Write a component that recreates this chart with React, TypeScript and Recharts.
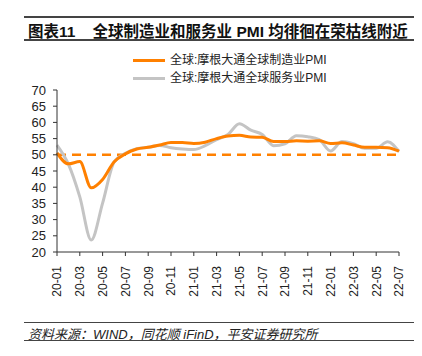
import React from 'react';
import { LineChart, Line, XAxis, YAxis, ReferenceLine } from 'recharts';

const months = [
    '20-01', '20-02', '20-03', '20-04', '20-05', '20-06', '20-07', '20-08', '20-09', '20-10', '20-11', '20-12',
    '21-01', '21-02', '21-03', '21-04', '21-05', '21-06', '21-07', '21-08', '21-09', '21-10', '21-11', '21-12',
    '22-01', '22-02', '22-03', '22-04', '22-05', '22-06', '22-07',
];
const manufacturing = [
    50.6, 47.2, 47.9, 39.8, 42.4, 47.8, 50.3, 51.8, 52.3, 53.0, 53.8, 53.8,
    53.5, 53.9, 55.0, 55.8, 56.0, 55.5, 55.4, 54.1, 54.1, 54.3, 54.2, 54.3,
    53.5, 53.7, 53.0, 52.3, 52.3, 52.2, 51.1,
];
const services = [
    53.0, 47.1, 37.0, 23.7, 35.1, 47.7, 50.5, 51.9, 52.3, 52.9, 52.2, 51.8,
    51.6, 52.8, 54.7, 56.3, 59.6, 57.6, 56.3, 52.8, 53.4, 55.9, 55.6, 54.7,
    51.2, 54.1, 53.4, 52.0, 52.0, 54.0, 51.0,
];
const yTicks = [20, 25, 30, 35, 40, 45, 50, 55, 60, 65, 70];
const mfgName = '全球:摩根大通全球制造业PMI';
const svcName = '全球:摩根大通全球服务业PMI';

const data = months.map((m, i) => ({ month: m, mfg: manufacturing[i], svc: services[i] }));

const FONT = '"Liberation Sans", Arial, "Noto Sans CJK SC", sans-serif';
const ORANGE = '#ff8000';
const GREY = '#c4c4c4';

const XTick = (props: any) => {
    const { x, y, payload } = props;
    return (
        <g transform={`translate(${x},${y + 8})`}>
            <text transform="rotate(-90)" textAnchor="end" dy="0.36em" fontSize={12} fill="#222" fontFamily={FONT}>
                {payload.value}
            </text>
        </g>
    );
};

const rule = (top: number, h: number) => (
    <div style={{ position: 'absolute', left: 24, width: 390, top, height: h, background: '#444' }} />
);

export default function App() {
    return (
        <div style={{ position: 'absolute', left: 0, top: 0, width: 422, height: 356, background: '#fff', fontFamily: FONT }}>
            {rule(16, 1.5)}
            <div style={{ position: 'absolute', left: 28, top: 19, fontSize: 15.5, fontWeight: 'bold', color: '#111', whiteSpace: 'pre' }}>
                {'图表11    全球制造业和服务业 PMI 均徘徊在荣枯线附近'}
            </div>
            {rule(39, 1.5)}
            <div style={{ position: 'absolute', left: 0, top: 0 }}>
                <LineChart width={422} height={300} data={data} margin={{ top: 90, right: 23, bottom: 0, left: 0 }}>
                    <XAxis
                        dataKey="month"
                        interval={1}
                        height={48}
                        tick={<XTick />}
                        tickSize={4}
                        axisLine={{ stroke: '#333' }}
                        tickLine={{ stroke: '#333' }}
                    />
                    <YAxis
                        domain={[20, 70]}
                        ticks={yTicks}
                        width={57}
                        tickSize={4}
                        tickMargin={7}
                        interval={0}
                        axisLine={{ stroke: '#333' }}
                        tickLine={{ stroke: '#333' }}
                        tick={{ fontSize: 13, fill: '#222', fontFamily: FONT }}
                    />
                    <ReferenceLine y={50} stroke={ORANGE} strokeWidth={2.5} strokeDasharray="9 6" />
                    <Line type="monotone" dataKey="svc" name={svcName} stroke={GREY} strokeWidth={3} dot={false} isAnimationActive={false} />
                    <Line type="monotone" dataKey="mfg" name={mfgName} stroke={ORANGE} strokeWidth={3} dot={false} isAnimationActive={false} />
                </LineChart>
            </div>
            <div style={{ position: 'absolute', left: 133, top: 51, fontSize: 12, color: '#222', lineHeight: '18px' }}>
                {[[mfgName, ORANGE], [svcName, GREY]].map(([name, color]) => (
                    <div key={name} style={{ display: 'flex', alignItems: 'center' }}>
                        <span style={{ display: 'inline-block', width: 32, height: 3, background: color, marginRight: 5 }} />
                        <span>{name}</span>
                    </div>
                ))}
            </div>
            {rule(322, 1.2)}
            <div style={{ position: 'absolute', left: 28, top: 324, fontSize: 13, fontStyle: 'italic', color: '#222' }}>
                资料来源：WIND，同花顺 iFinD，平安证券研究所
            </div>
            {rule(340, 1.2)}
        </div>
    );
}
